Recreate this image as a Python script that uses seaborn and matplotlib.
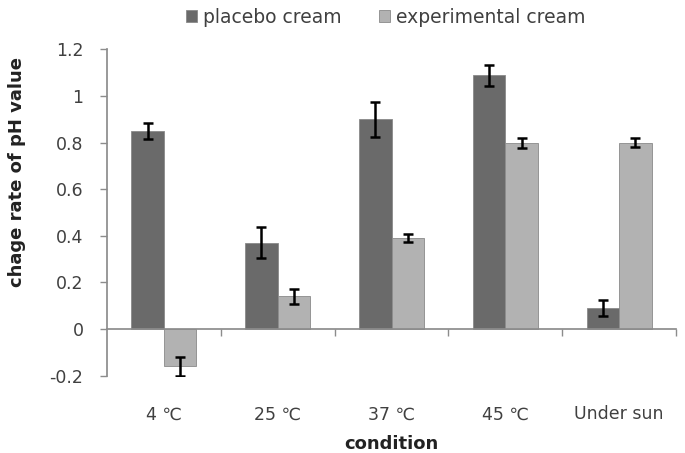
import matplotlib
matplotlib.use("Agg")
import matplotlib.pyplot as plt
import seaborn as sns
import pandas as pd
import numpy as np

conditions = ["4 \u2103", "25 \u2103", "37 \u2103", "45 \u2103", "Under sun"]
series = ["placebo cream", "experimental cream"]
placebo = [0.85, 0.37, 0.90, 1.09, 0.09]
placebo_err = [0.035, 0.067, 0.076, 0.045, 0.035]
experimental = [-0.16, 0.14, 0.39, 0.80, 0.80]
experimental_err = [0.04, 0.034, 0.018, 0.022, 0.02]
colors = ["#6a6a6a", "#b2b2b2"]

df = pd.DataFrame({
    "condition": conditions * 2,
    "cream": [series[0]] * len(conditions) + [series[1]] * len(conditions),
    "value": placebo + experimental,
})
vals_by_series = [placebo, experimental]
errs = [placebo_err, experimental_err]

sns.set_theme(style="white")
plt.rcParams["font.family"] = ["DejaVu Sans"]

fig = plt.figure(figsize=(6.85, 4.53), dpi=100)
ax = fig.add_axes([107/685, 1 - 375.7/453, (676-107)/685, (375.7-49.4)/453])

sns.barplot(data=df, x="condition", y="value", hue="cream", palette=colors,
            width=0.57, errorbar=None, ax=ax, saturation=1,
            edgecolor="#8a8a8a", linewidth=0.6)

for cont, vals, err in zip(ax.containers, vals_by_series, errs):
    xs = [p.get_x() + p.get_width() / 2 for p in cont.patches]
    ax.errorbar(xs, vals, yerr=err, fmt="none", ecolor="black", elinewidth=1.8,
                capsize=3.5, capthick=1.8, zorder=5)

ax.set_ylim(-0.2, 1.2)
ax.set_xlim(-0.5, len(conditions) - 0.5)
ax.set_yticks([-0.2, 0, 0.2, 0.4, 0.6, 0.8, 1, 1.2])
ax.set_yticklabels(["-0.2", "0", "0.2", "0.4", "0.6", "0.8", "1", "1.2"])

for s in ["top", "right"]:
    ax.spines[s].set_visible(False)
ax.spines["left"].set_color("#8c8c8c")
ax.spines["bottom"].set_color("#8c8c8c")
ax.spines["bottom"].set_position(("data", 0))

ax.tick_params(axis="y", direction="out", length=5, color="#8c8c8c", width=1,
               labelsize=12.5, labelcolor="#404040", left=True, pad=12)
ax.set_xticks(range(len(conditions)))
ax.set_xticklabels(conditions)
ax.set_xticks(np.arange(0.5, len(conditions), 1.0), minor=True)
ax.tick_params(axis="x", which="major", length=0, pad=55, labelsize=12.5, labelcolor="#404040")
ax.tick_params(axis="x", which="minor", length=5, direction="out", color="#8c8c8c", width=1, bottom=True)

ax.set_ylabel("chage rate of pH value", fontsize=13, fontweight="bold", color="#222222")
ax.yaxis.label.set_va("center")
ax.yaxis.set_label_coords(-0.158, 0.624)
ax.set_xlabel("condition", fontsize=13, fontweight="bold", color="#222222")
ax.xaxis.label.set_va("baseline")
ax.xaxis.set_label_coords(0.5, -0.2246)

ax.legend(loc="center", bbox_to_anchor=(0.563, 0.962), bbox_transform=fig.transFigure,
          ncol=2, frameon=False, fontsize=13.5, handlelength=0.6, handleheight=0.6,
          handletextpad=0.3, columnspacing=2.0, labelcolor="#404040")
ax.grid(False)

fig.savefig("out.png", dpi=100)
